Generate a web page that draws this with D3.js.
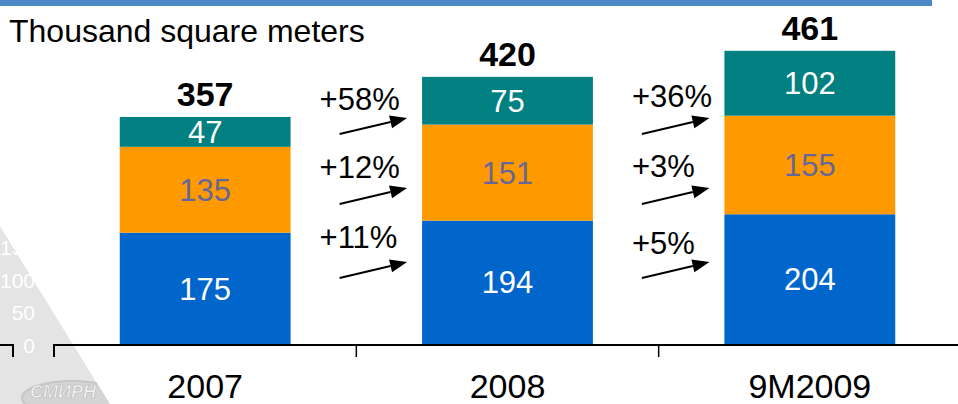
<!DOCTYPE html>
<html>
<head>
<meta charset="utf-8">
<script src="https://cdn.jsdelivr.net/npm/d3@7/dist/d3.min.js"></script>
<style>
  html, body { margin: 0; padding: 0; background: #fff; }
  svg { display: block; font-family: "Liberation Sans", Arial, Helvetica, sans-serif; }
</style>
</head>
<body>
<svg id="chart" width="958" height="404"></svg>
<script>
// Office space, thousand square meters
const categories = ["2007", "2008", "9M2009"];
const seriesKeys = ["base", "middle", "top"];
const baseValues = [175, 194, 204];
const middleValues = [135, 151, 155];
const topValues = [47, 75, 102];
const totals = [357, 420, 461];
// growth between neighbouring periods, per series (base, middle, top)
const growthFirst = ["+11%", "+12%", "+58%"];
const growthSecond = ["+5%", "+3%", "+36%"];
const unitLabel = "Thousand square meters";
const backTicks = ["150", "100", "50", "0"];

const W = 958, H = 404;
const svg = d3.select("#chart");

const colors = { base: "#0066CC", middle: "#FF9900", top: "#008080" };
const labelColors = { base: "#FFFFFF", middle: "#666699", top: "#FFFFFF" };

const x = d3.scaleBand().domain(categories).range([54, 961])
  .paddingInner(0.435).paddingOuter(0.2175);
const y = d3.scaleLinear().domain([0, 500]).range([344, 26]);

// faded logo panel in the lower-left corner
const clip = svg.append("defs").append("clipPath").attr("id", "wm");
const wmPoints = [[0, 226], [110, 404], [0, 404]];
clip.append("polygon").attr("points", wmPoints.map(p => p.join(",")).join(" "));
const wm = svg.append("g").attr("clip-path", "url(#wm)");
wm.append("polygon").attr("points", wmPoints.map(p => p.join(",")).join(" "))
  .attr("fill", "#e4e4e4");
wm.append("ellipse").attr("cx", 72).attr("cy", 398).attr("rx", 50).attr("ry", 17)
  .attr("fill", "#d4d4d4").attr("stroke", "#c6c6c6").attr("stroke-width", 2);
wm.append("text").attr("x", 30).attr("y", 398)
  .attr("font-size", 18).attr("font-weight", "bold").attr("font-style", "italic")
  .attr("fill", "#f2f2f2").attr("stroke", "#b8b8b8").attr("stroke-width", 0.6)
  .text("СМИРН");
const wmScale = d3.scaleLinear().domain([0, 3]).range([255, 353]);
svg.append("g").selectAll("text").data(backTicks).join("text")
  .attr("x", 35).attr("y", (d, i) => wmScale(i))
  .attr("text-anchor", "end").attr("font-size", 21).attr("fill", "#ffffff")
  .text(d => d);

// header strip
svg.append("rect").attr("x", 0).attr("y", 0).attr("width", 932).attr("height", 6)
  .attr("fill", "#4F88C6");

// unit caption
svg.append("text").attr("x", 9).attr("y", 42).attr("font-size", 32).attr("fill", "#000")
  .text(unitLabel);

// stacked bars
const rows = categories.map((c, i) => ({
  category: c, base: baseValues[i], middle: middleValues[i], top: topValues[i]
}));
const stacked = d3.stack().keys(seriesKeys)(rows);

const layers = svg.append("g").selectAll("g").data(stacked).join("g")
  .attr("fill", d => colors[d.key]);
layers.selectAll("rect").data(d => d.map(s => ({ s, key: d.key }))).join("rect")
  .attr("x", d => x(d.s.data.category))
  .attr("y", d => y(d.s[1]))
  .attr("width", x.bandwidth())
  .attr("height", d => y(d.s[0]) - y(d.s[1]));

layers.selectAll("text").data(d => d.map(s => ({ s, key: d.key }))).join("text")
  .attr("x", d => x(d.s.data.category) + x.bandwidth() / 2)
  .attr("y", d => (y(d.s[0]) + y(d.s[1])) / 2)
  .attr("dy", "0.36em")
  .attr("text-anchor", "middle")
  .attr("font-size", 31)
  .attr("fill", d => labelColors[d.key])
  .text(d => d.s[1] - d.s[0]);

// totals above bars
svg.append("g").selectAll("text").data(totals).join("text")
  .attr("x", (d, i) => x(categories[i]) + x.bandwidth() / 2)
  .attr("y", d => y(d) - 11)
  .attr("text-anchor", "middle")
  .attr("font-size", 34).attr("font-weight", "bold").attr("fill", "#000")
  .text(d => d);

// growth arrows between bars
const rowTipY = [262, 188, 118];
const rowLabelY = [[248, 254], [178, 177], [110, 107]];
const labelShift = [-20, -10];
const growth = [growthFirst, growthSecond];
const arrows = svg.append("g");
growth.forEach((labels, g) => {
  const x0 = x(categories[g]) + x.bandwidth() + 49;
  const x1 = x(categories[g + 1]) - 15;
  labels.forEach((lab, r) => {
    const ty = rowTipY[r];
    const sy = ty + 16;
    const ang = Math.atan2(ty - sy, x1 - x0);
    const len = 17, hw = 6.5;
    const bx = x1 - len * Math.cos(ang), by = ty - len * Math.sin(ang);
    arrows.append("line").attr("x1", x0).attr("y1", sy).attr("x2", bx).attr("y2", by)
      .attr("stroke", "#000").attr("stroke-width", 2);
    arrows.append("path")
      .attr("d", `M${x1},${ty} L${bx - hw * Math.sin(ang)},${by + hw * Math.cos(ang)} L${bx + hw * Math.sin(ang)},${by - hw * Math.cos(ang)} Z`)
      .attr("fill", "#000");
    arrows.append("text").attr("x", x0 + labelShift[g]).attr("y", rowLabelY[r][g])
      .attr("font-size", 31).attr("fill", "#000").text(lab);
  });
});

// category axis
const axisY = 345;
const axisG = svg.append("g").attr("transform", `translate(0,${axisY})`);
axisG.call(d3.axisBottom(x).tickSize(0).tickPadding(29))
  .call(g => g.select(".domain").remove())
  .call(g => g.selectAll("text").attr("font-size", 34).attr("fill", "#000")
    .attr("font-family", "'Liberation Sans', Arial, sans-serif"));
const step = x.step();
const bounds = [54].concat(categories.slice(1).map(c => x(c) - step * x.paddingInner() / 2));
svg.append("line").attr("x1", 54).attr("x2", W).attr("y1", axisY).attr("y2", axisY)
  .attr("stroke", "#000").attr("stroke-width", 2);
svg.append("g").selectAll("line").data(bounds).join("line")
  .attr("x1", d => d).attr("x2", d => d).attr("y1", axisY - 1).attr("y2", axisY + 12)
  .attr("stroke", "#000").attr("stroke-width", d => d === 54 ? 2 : 1.5);
// leftover axis piece at the far left
svg.append("path").attr("d", `M0,${axisY} H13 V${axisY + 12}`)
  .attr("fill", "none").attr("stroke", "#000").attr("stroke-width", 2);
</script>
</body>
</html>
